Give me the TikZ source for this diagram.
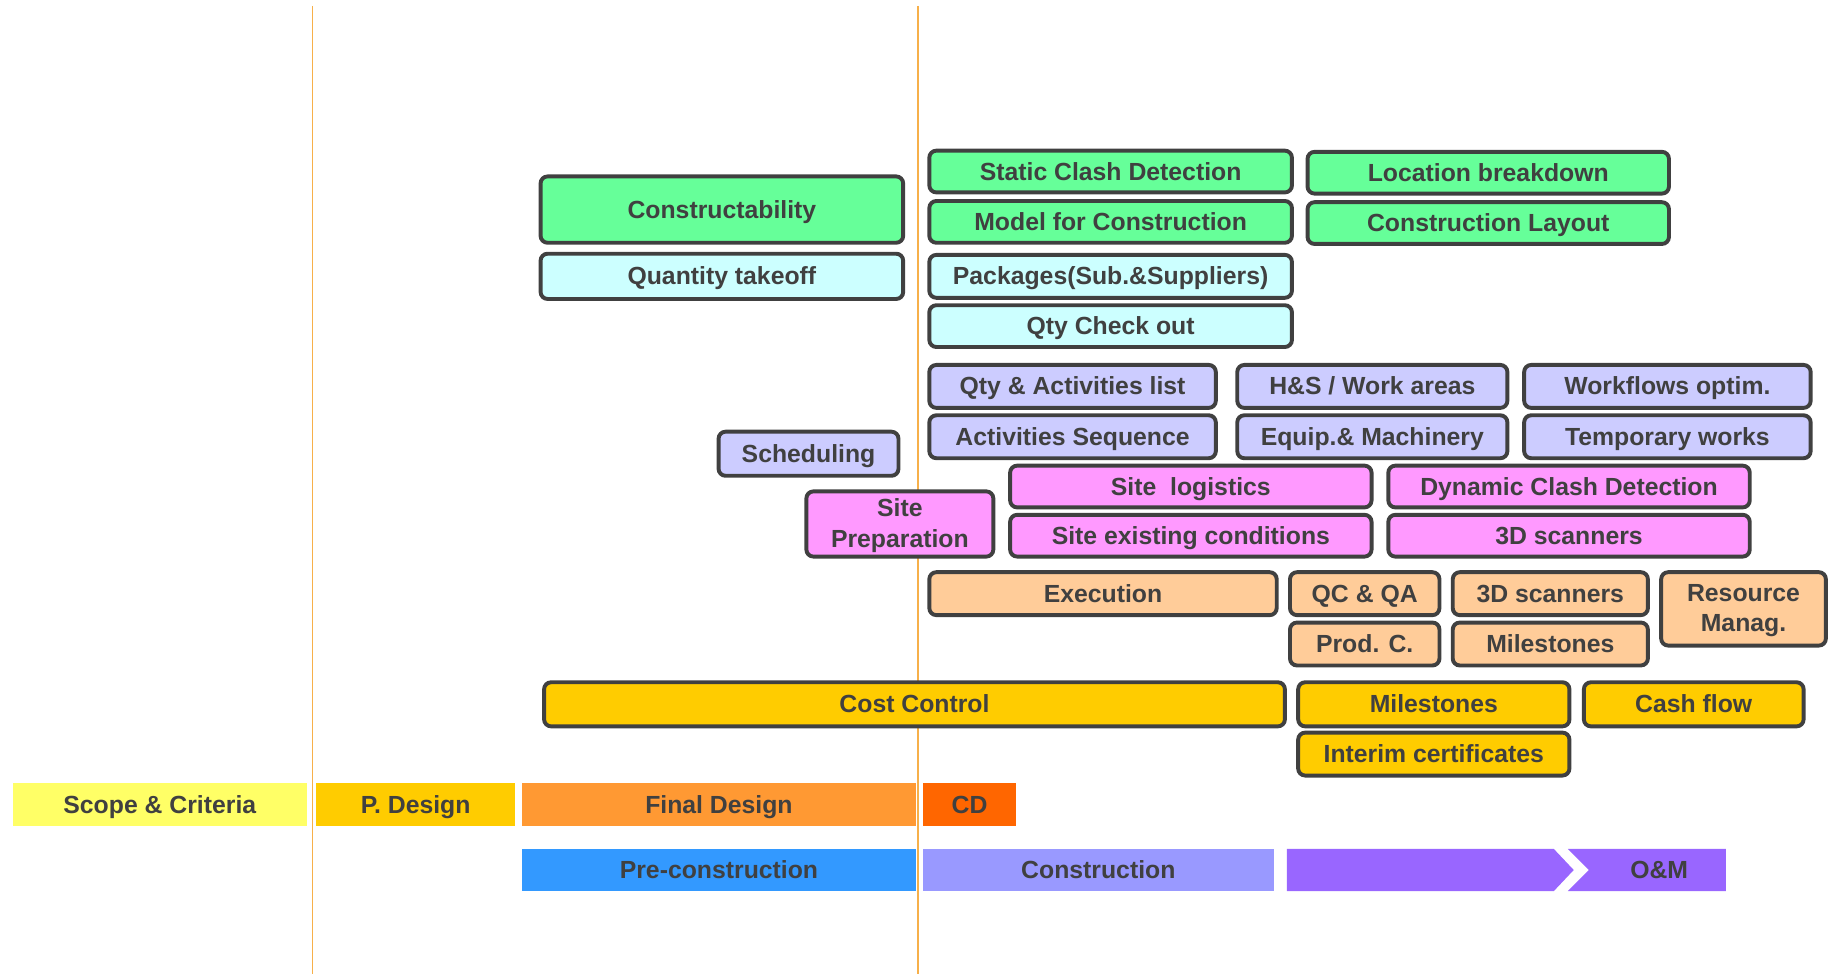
\documentclass[tikz,border=0pt]{standalone}
\usepackage{fontspec}
\setmainfont{Liberation Sans}
\definecolor{bord}{HTML}{404040}
\definecolor{txt}{HTML}{404040}
\definecolor{cgreen}{HTML}{66FF99}
\definecolor{ccyan}{HTML}{CCFFFF}
\definecolor{clav}{HTML}{CCCCFF}
\definecolor{cpink}{HTML}{FF99FF}
\definecolor{cpeach}{HTML}{FFCC99}
\definecolor{cgold}{HTML}{FFCC00}
\definecolor{cscope}{HTML}{FFFF66}
\definecolor{cfinal}{HTML}{FF9933}
\definecolor{ccd}{HTML}{FF6600}
\definecolor{cpre}{HTML}{3399FF}
\definecolor{ccons}{HTML}{9999FF}
\definecolor{cpurp}{HTML}{9966FF}
\definecolor{vline}{HTML}{F7B04A}
\tikzset{
  ubox/.style={draw=bord, line width=2pt, rounded corners=3.6pt, text=txt, inner sep=0pt, align=center, text height=9.1pt, text depth=0.3pt},
  ubar/.style={inner sep=0pt, text=txt, align=center, text height=9.1pt, text depth=0.3pt},
  mline/.style={text height={}, text depth={}},
  vrule/.style={draw=vline, line width=0.8pt}
}
\newcommand\mybox[8][]{%
  \pgfmathsetmacro\bw{(#5-#3)*0.6-2}%
  \pgfmathsetmacro\bh{(#6-#4)*0.6-2}%
  \node[ubox, fill=#7, minimum width=\bw pt, minimum height=\bh pt, #1] (#2) at ({(#3+#5)/2},{(#4+#6)/2}) {#8};}
\newcommand\mybar[7]{%
  \pgfmathsetmacro\bw{(#4-#2)*0.6}%
  \pgfmathsetmacro\bh{(#5-#3)*0.6}%
  \node[ubar, fill=#6, minimum width=\bw pt, minimum height=\bh pt] (#1) at ({(#2+#4)/2},{(#3+#5)/2}) {#7};}
\begin{document}
\begin{tikzpicture}[x=0.6pt,y=-0.6pt, font=\bfseries\fontsize{12.7}{15.6}\selectfont]
\useasboundingbox (0,0) rectangle (1568,832);
% vertical guide lines
\coordinate (l1t) at (267,5); \coordinate (l1b) at (267,832);
\coordinate (l2t) at (784,5); \coordinate (l2b) at (784,832);
\draw[vrule] (l1t) -- (l1b);
\draw[vrule] (l2t) -- (l2b);
% green
\mybox{constr}{460}{149}{773}{209}{cgreen}{Constructability}
\mybox{static}{792}{127}{1105}{166}{cgreen}{Static Clash Detection}
\mybox{model}{792}{170}{1105}{209}{cgreen}{Model for Construction}
\mybox{locb}{1115}{128}{1427}{167}{cgreen}{Location breakdown}
\mybox{clay}{1115}{171}{1427}{210}{cgreen}{Construction Layout}
% cyan
\mybox{qtake}{460}{215}{773}{257}{ccyan}{Quantity takeoff}
\mybox{pack}{792}{216}{1105}{256}{ccyan}{Packages(Sub.\&Suppliers)}
\mybox{qcheck}{792}{259}{1105}{298}{ccyan}{Qty Check out}
% lavender
\mybox{qact}{792}{310}{1040}{350}{clav}{Qty \& Activities list}
\mybox{hs}{1055}{310}{1289}{350}{clav}{H\&S / Work areas}
\mybox{wf}{1300}{310}{1548}{350}{clav}{Workflows optim.}
\mybox{aseq}{792}{353}{1040}{393}{clav}{Activities Sequence}
\mybox{equip}{1055}{353}{1289}{393}{clav}{Equip.\& Machinery}
\mybox{temp}{1300}{353}{1548}{393}{clav}{Temporary works}
\mybox{sched}{612}{367}{769}{408}{clav}{Scheduling}
% pink
\mybox[mline, text depth=1pt]{sprep}{687}{418}{850}{477}{cpink}{Site\\Preparation}
\mybox{slog}{861}{396}{1173}{435}{cpink}{Site~ logistics}
\mybox{dyn}{1184}{396}{1496}{435}{cpink}{Dynamic Clash Detection}
\mybox{sexist}{861}{438}{1173}{477}{cpink}{Site existing conditions}
\mybox{scanp}{1184}{438}{1496}{477}{cpink}{3D scanners}
% peach
\mybox{exec}{792}{487}{1092}{527}{cpeach}{Execution}
\mybox{qc}{1100}{487}{1231}{527}{cpeach}{QC \& QA}
\mybox{scano}{1239}{487}{1409}{527}{cpeach}{3D scanners}
\mybox[mline, text depth=1pt]{res}{1417}{487}{1561}{553}{cpeach}{Resource\\Manag.}
\mybox{prod}{1100}{530}{1231}{570}{cpeach}{Prod. C.}
\mybox{mileo}{1239}{530}{1409}{570}{cpeach}{Milestones}
% gold
\mybox{cost}{463}{581}{1099}{622}{cgold}{Cost Control}
\mybox{miley}{1107}{581}{1342}{622}{cgold}{Milestones}
\mybox{cash}{1351}{581}{1542}{622}{cgold}{Cash flow}
\mybox{interim}{1107}{624}{1342}{664}{cgold}{Interim certificates}
% phase bars
\mybar{scope}{11}{669}{262}{705}{cscope}{Scope \& Criteria}
\mybar{pdes}{270}{669}{440}{705}{cgold}{P. Design}
\mybar{fdes}{446}{669}{782}{705}{cfinal}{Final Design}
\mybar{cd}{788}{669}{868}{705}{ccd}{CD}
\mybar{prec}{446}{725}{782}{761}{cpre}{Pre-construction}
\mybar{cons}{788}{725}{1088}{761}{ccons}{Construction}
\fill[cpurp] (1099,725) -- (1327,725) -- (1344,743) -- (1327,761) -- (1099,761) -- cycle;
\fill[cpurp] (1339,725) -- (1474,725) -- (1474,761) -- (1339,761) -- (1357,743) -- cycle;
\node[ubar] (om) at (1417,743) {O\&M};
\end{tikzpicture}
\end{document}
